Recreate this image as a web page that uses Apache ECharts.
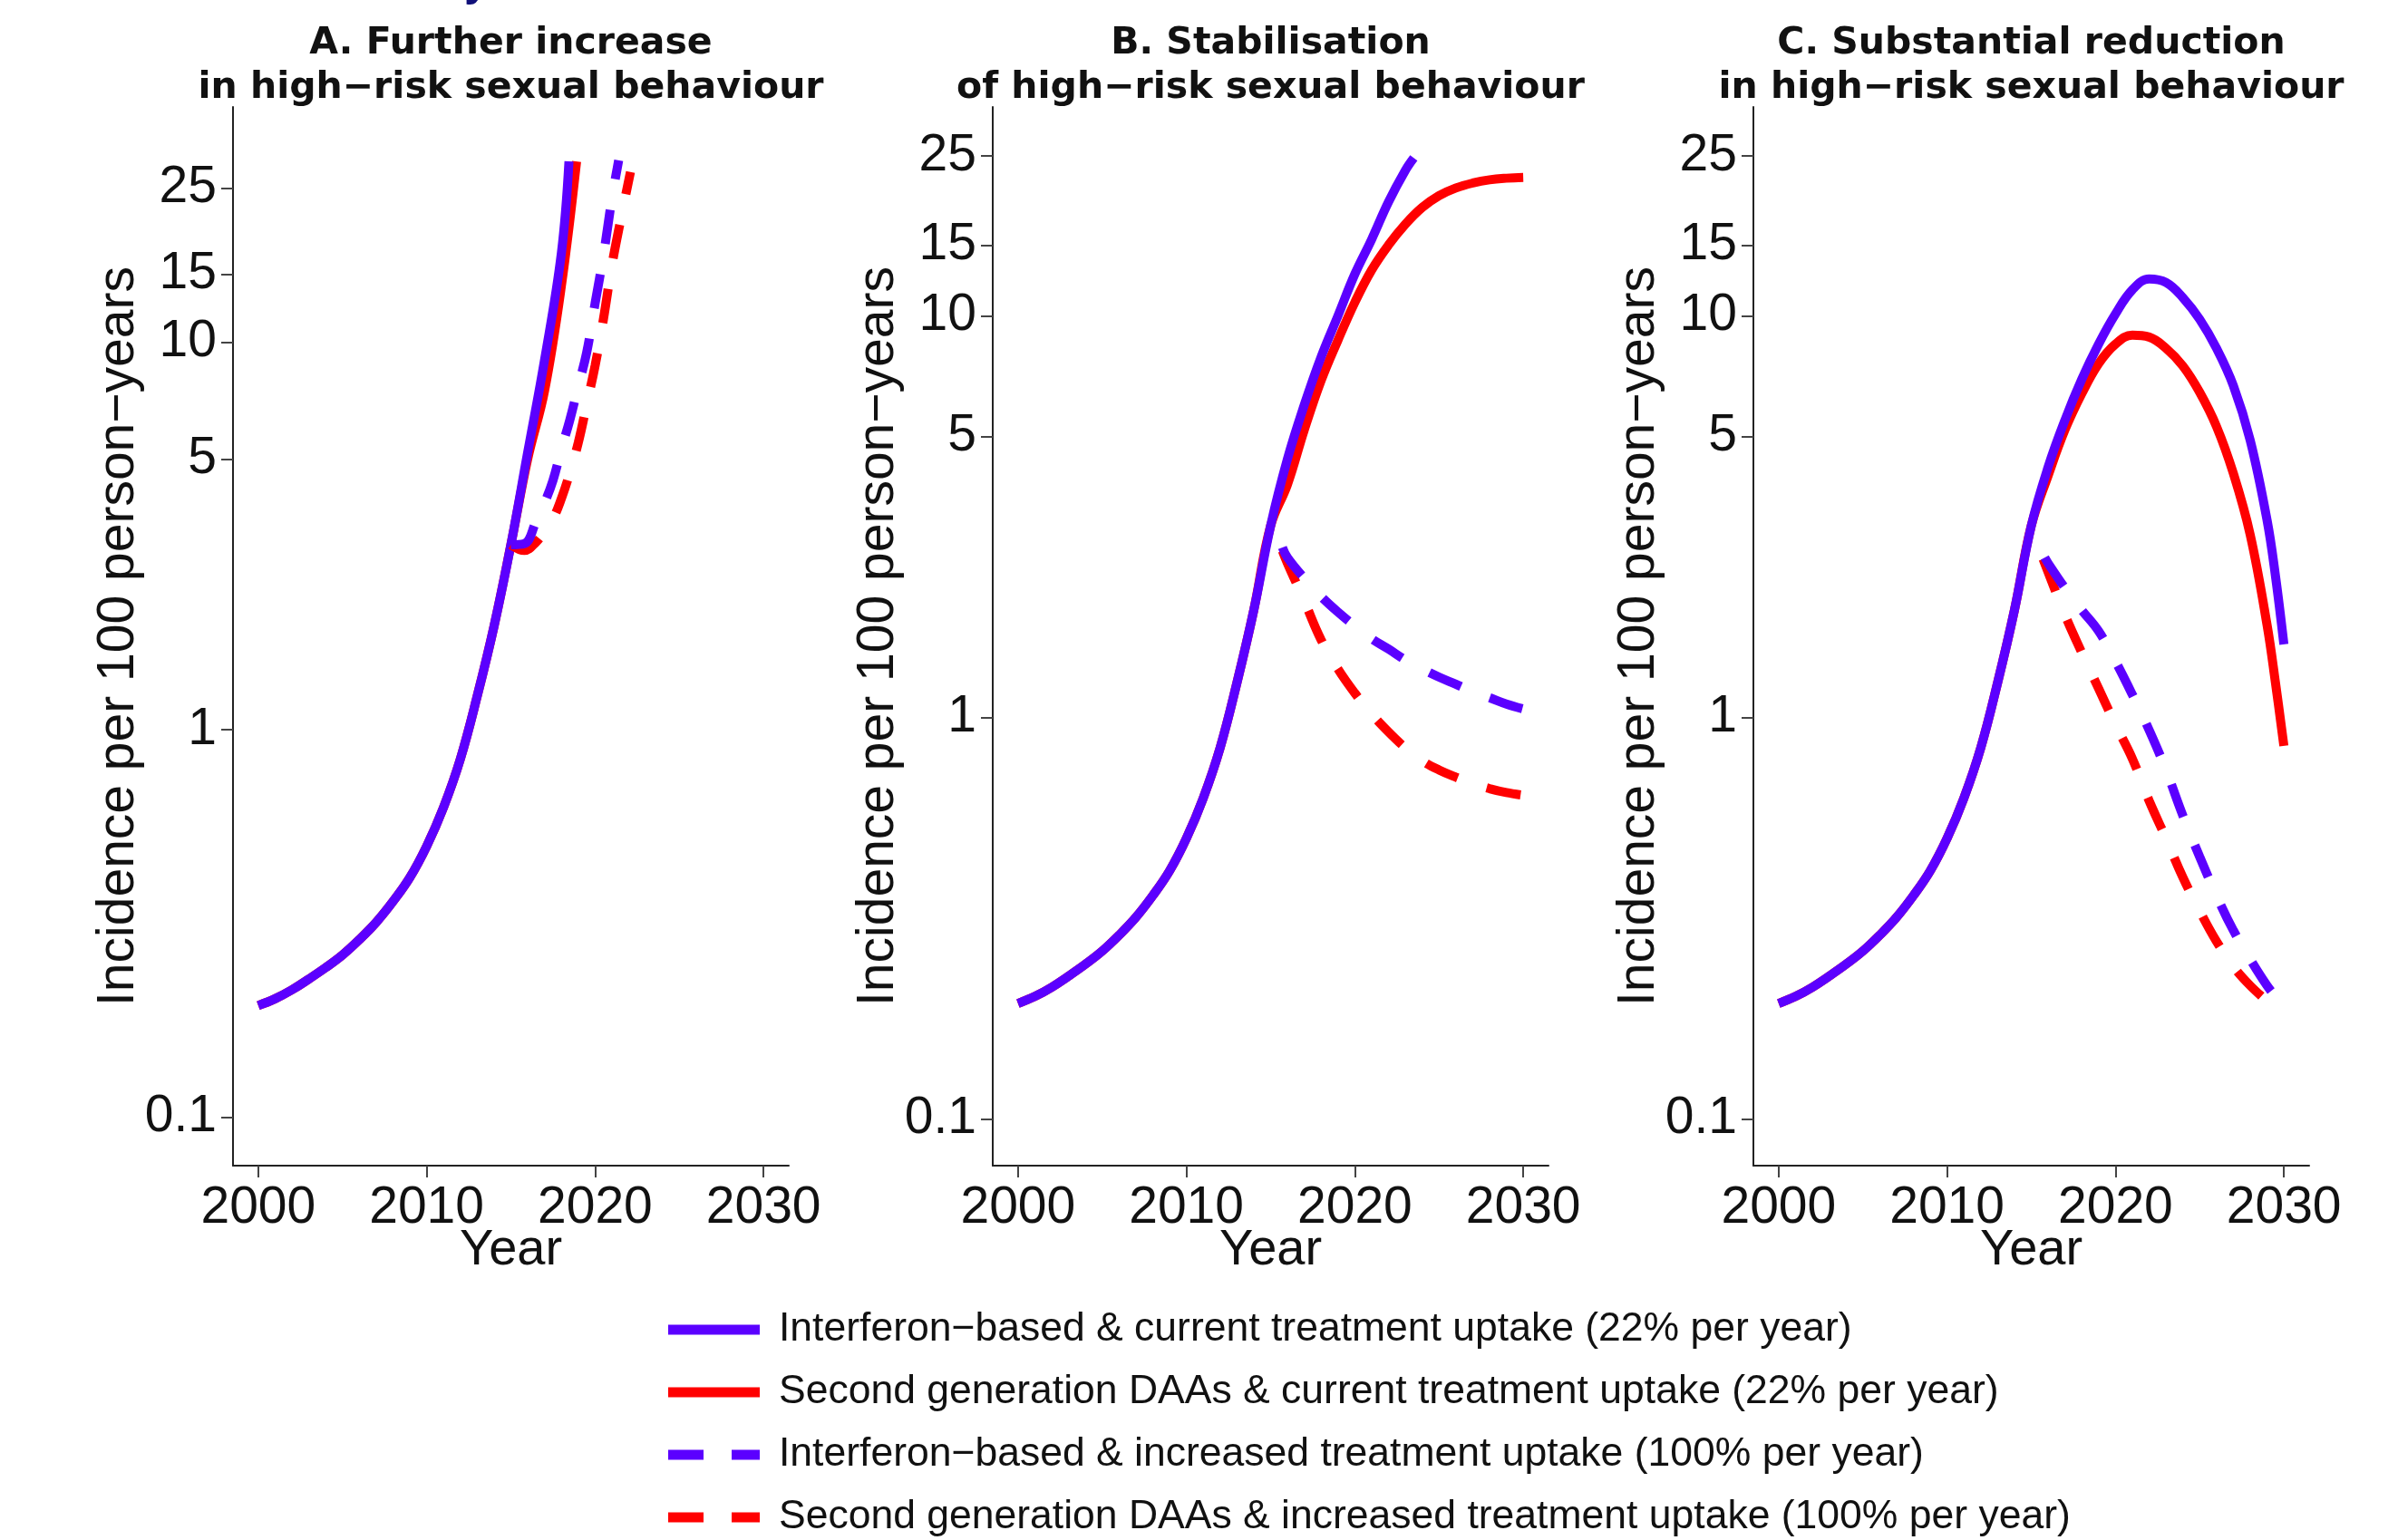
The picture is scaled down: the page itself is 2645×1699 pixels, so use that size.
<!DOCTYPE html>
<html>
<head>
<meta charset="utf-8">
<title>HCV incidence projections</title>
<script src="https://cdn.jsdelivr.net/npm/echarts@6/dist/echarts.min.js"></script>
<style>
  html, body { margin: 0; padding: 0; background: #ffffff; }
  #chart { width: 2645px; height: 1699px; }
</style>
</head>
<body>
<div id="chart"></div>
<script>
// ---------------------------------------------------------------
// Axis ticks
// ---------------------------------------------------------------
const xTickYears = [2000, 2010, 2020, 2030];
const yTickValues = [0.1, 1, 5, 10, 15, 25];

const panelTitles = [
  'A. Further increase\nin high\u2212risk sexual behaviour',
  'B. Stabilisation\nof high\u2212risk sexual behaviour',
  'C. Substantial reduction\nin high\u2212risk sexual behaviour'
];

const scenarioNames = [
  'Interferon\u2212based & current treatment uptake (22% per year)',
  'Second generation DAAs & current treatment uptake (22% per year)',
  'Interferon\u2212based & increased treatment uptake (100% per year)',
  'Second generation DAAs & increased treatment uptake (100% per year)'
];

// ---------------------------------------------------------------
// Incidence per 100 person-years
// ---------------------------------------------------------------
// Common trajectory 2000-2015 (before the scenarios split)
const baselineYears = [2000, 2001, 2002, 2003, 2004, 2005, 2006, 2007,
                       2008, 2009, 2010, 2011, 2012, 2013, 2014, 2015];
const baselineIncidence = [0.194, 0.202, 0.213, 0.227, 0.243, 0.262, 0.287, 0.318,
                           0.36, 0.415, 0.5, 0.63, 0.84, 1.22, 1.85, 3.0];

// A. Further increase in high-risk sexual behaviour
const aIfnCurrent = [[2016, 5.2], [2017, 9.0], [2018, 17], [2018.45, 29.3]];
const aDaaCurrent = [[2016, 5.0], [2017, 7.5], [2018, 14], [2018.9, 29.3]];
const aIfnIncreased = [[2015, 3.0], [2015.8, 3.02], [2016.5, 3.45], [2017, 3.85], [2017.5, 4.4],
                       [2018, 5.3], [2018.5, 6.3], [2019, 7.7], [2019.5, 9.4], [2020, 12.6],
                       [2020.5, 16.8], [2021, 23.5], [2021.4, 29.5]];
const aDaaIncreased = [[2015, 3.0], [2015.8, 2.9], [2016.5, 3.05], [2017, 3.25], [2017.5, 3.5],
                       [2018, 3.95], [2018.5, 4.6], [2019, 5.5], [2019.5, 6.9], [2020, 8.7],
                       [2020.5, 11.5], [2021, 15.8], [2021.5, 20.5], [2022.1, 27.5]];

// B. Stabilisation of high-risk sexual behaviour
const bIfnCurrent = [[2016, 4.4], [2017, 6.0], [2018, 7.9], [2019, 10.0], [2020, 12.7],
                     [2021, 15.5], [2022, 19.2], [2023, 23.0], [2023.5, 24.7]];
const bDaaCurrent = [[2016, 3.8], [2017, 5.2], [2018, 6.9], [2019, 8.7], [2020, 10.8],
                     [2021, 13.0], [2022, 15.0], [2023, 16.9], [2024, 18.6], [2025, 19.9],
                     [2026, 20.8], [2027, 21.4], [2028, 21.8], [2029, 22.0], [2030, 22.1]];
const bIfnIncreased = [[2015.7, 2.65], [2016, 2.5], [2017, 2.22], [2018, 2.0], [2019, 1.83],
                       [2020, 1.69], [2021, 1.57], [2022, 1.48], [2023, 1.39], [2024, 1.32],
                       [2025, 1.26], [2026, 1.21], [2027, 1.16], [2028, 1.12], [2029, 1.08],
                       [2030, 1.05]];
const bDaaIncreased = [[2015.7, 2.6], [2016, 2.42], [2017, 1.95], [2018, 1.56], [2019, 1.32],
                       [2020, 1.15], [2021, 1.02], [2022, 0.92], [2023, 0.84], [2024, 0.78],
                       [2025, 0.74], [2026, 0.71], [2027, 0.685], [2028, 0.665], [2029, 0.65],
                       [2030, 0.64]];

// C. Substantial reduction in high-risk sexual behaviour
const cIfnCurrent = [[2016, 4.2], [2017, 5.5], [2018, 6.95], [2019, 8.5], [2020, 10.1],
                     [2021, 11.6], [2022, 12.35], [2023, 12.1], [2024, 11.1], [2025, 9.8],
                     [2026, 8.3], [2027, 6.7], [2028, 4.9], [2029, 3.1], [2029.5, 2.25],
                     [2030, 1.52]];
const cDaaCurrent = [[2016, 4.0], [2017, 5.2], [2018, 6.4], [2019, 7.6], [2020, 8.5],
                     [2021, 8.95], [2022, 8.85], [2023, 8.3], [2024, 7.5], [2025, 6.45],
                     [2026, 5.3], [2027, 4.05], [2028, 2.85], [2029, 1.7], [2029.5, 1.22],
                     [2030, 0.85]];
const cIfnIncreased = [[2015.8, 2.5], [2016, 2.42], [2017, 2.1], [2018, 1.85], [2019, 1.64],
                       [2020, 1.38], [2021, 1.14], [2022, 0.93], [2023, 0.74], [2024, 0.57],
                       [2025, 0.45], [2026, 0.36], [2027, 0.295], [2028, 0.25], [2029, 0.215],
                       [2029.8, 0.195]];
const cDaaIncreased = [[2015.7, 2.48], [2016, 2.3], [2017, 1.8], [2018, 1.45], [2019, 1.18],
                       [2020, 0.96], [2021, 0.79], [2022, 0.62], [2023, 0.5], [2024, 0.4],
                       [2025, 0.33], [2026, 0.277], [2027, 0.24], [2028, 0.215], [2029.1, 0.195]];

// ---------------------------------------------------------------
// Styling and layout
// ---------------------------------------------------------------
const PURPLE = '#5b00ff';
const RED = '#ff0000';
const DASH = [38, 34];
const FONT = '"Liberation Sans", Arial, Helvetica, sans-serif';
const TITLE_FONT = '"DejaVu Sans", Verdana, sans-serif';

const gridLeft = [257, 1095, 1934];
const gridTop = 118;
const gridWidth = 613;
const gridHeight = 1168;
const yExtent = [[0.0749, 40.5], [0.0766, 33.1], [0.0766, 33.1]];

// legend block under the panels
const legendX = 737;
const legendTop = 1467;
const legendRowGap = 69;
const legendSampleWidth = 101;

function withBaseline(projection) {
  return baselineYears.map((y, i) => [y, baselineIncidence[i]]).concat(projection);
}

const panelData = [
  { ifnCur: aIfnCurrent, daaCur: aDaaCurrent, ifnInc: aIfnIncreased, daaInc: aDaaIncreased },
  { ifnCur: bIfnCurrent, daaCur: bDaaCurrent, ifnInc: bIfnIncreased, daaInc: bDaaIncreased },
  { ifnCur: cIfnCurrent, daaCur: cDaaCurrent, ifnInc: cIfnIncreased, daaInc: cDaaIncreased }
];

function lineSeries(name, data, color, dashed, idx) {
  return {
    name: name,
    type: 'line',
    xAxisIndex: idx,
    yAxisIndex: idx,
    data: data,
    symbol: 'none',
    smooth: 0.4,
    silent: true,
    animation: false,
    itemStyle: { color: color },
    lineStyle: { color: color, width: 10, type: dashed ? DASH : 'solid', cap: 'butt' },
    emphasis: { disabled: true }
  };
}

const grids = [], xAxes = [], yAxes = [], series = [], graphics = [];

panelData.forEach((p, i) => {
  grids.push({ left: gridLeft[i], top: gridTop, width: gridWidth, height: gridHeight, containLabel: false });

  xAxes.push({
    gridIndex: i,
    type: 'value',
    min: 1998.5,
    max: 2031.5,
    name: 'Year',
    nameLocation: 'middle',
    nameGap: 66,
    nameMoveOverlap: false,
    nameTextStyle: { fontFamily: FONT, fontSize: 56, color: '#111' },
    axisLine: { show: true, onZero: false, lineStyle: { color: '#222', width: 2 } },
    axisTick: { show: true, customValues: xTickYears, length: 13, lineStyle: { color: '#444', width: 2 } },
    axisLabel: {
      customValues: xTickYears,
      fontFamily: FONT, fontSize: 57, color: '#111', margin: 19,
      formatter: v => String(Math.round(v))
    },
    splitLine: { show: false }
  });

  yAxes.push({
    gridIndex: i,
    type: 'log',
    logBase: 10,
    min: yExtent[i][0],
    max: yExtent[i][1],
    name: 'Incidence per 100 person\u2212years',
    nameLocation: 'middle',
    nameRotate: 90,
    nameGap: 97,
    nameMoveOverlap: false,
    nameTextStyle: { fontFamily: FONT, fontSize: 57, color: '#111' },
    axisLine: { show: true, onZero: false, lineStyle: { color: '#222', width: 2 } },
    axisTick: { show: true, customValues: yTickValues, length: 13, lineStyle: { color: '#444', width: 2 } },
    axisLabel: {
      customValues: yTickValues,
      fontFamily: FONT, fontSize: 57, color: '#111', margin: 18,
      formatter: v => String(Math.round(v * 10) / 10)
    },
    splitLine: { show: false }
  });

  // red drawn first so the purple curves sit on top where they coincide
  series.push(lineSeries(scenarioNames[1], withBaseline(p.daaCur), RED, false, i));
  series.push(lineSeries(scenarioNames[0], withBaseline(p.ifnCur), PURPLE, false, i));
  series.push(lineSeries(scenarioNames[3], p.daaInc, RED, true, i));
  series.push(lineSeries(scenarioNames[2], p.ifnInc, PURPLE, true, i));

  graphics.push({
    type: 'text',
    x: gridLeft[i] + gridWidth / 2,
    y: 24,
    silent: true,
    style: {
      text: panelTitles[i],
      textAlign: 'center',
      textVerticalAlign: 'top',
      fontFamily: TITLE_FONT,
      fontWeight: 'bold',
      fontSize: 41,
      lineHeight: 49,
      fill: '#111'
    }
  });
});

// legend: line sample + label for each scenario
const legendStyles = [
  { color: PURPLE, dashed: false },
  { color: RED, dashed: false },
  { color: PURPLE, dashed: true },
  { color: RED, dashed: true }
];
scenarioNames.forEach((name, k) => {
  const cy = legendTop + k * legendRowGap;
  graphics.push({
    type: 'line',
    silent: true,
    shape: { x1: legendX, y1: cy, x2: legendX + legendSampleWidth, y2: cy },
    style: {
      stroke: legendStyles[k].color,
      lineWidth: 11,
      lineCap: 'butt',
      lineDash: legendStyles[k].dashed ? [39, 31] : null
    }
  });
  graphics.push({
    type: 'text',
    silent: true,
    x: legendX + legendSampleWidth + 21,
    y: cy,
    style: {
      text: name,
      textAlign: 'left',
      textVerticalAlign: 'middle',
      fontFamily: FONT,
      fontSize: 44.5,
      fill: '#111'
    }
  });
});

// descender of a heading line above the figure, cut by the top edge
graphics.push({
  type: 'text',
  x: 512,
  y: 6,
  silent: true,
  style: { text: 'y', textAlign: 'left', textVerticalAlign: 'bottom',
           fontFamily: FONT, fontWeight: 'bold', fontSize: 50, fill: '#10107a' }
});

const chart = echarts.init(document.getElementById('chart'), null, { renderer: 'canvas' });
chart.setOption({
  backgroundColor: '#ffffff',
  animation: false,
  grid: grids,
  xAxis: xAxes,
  yAxis: yAxes,
  series: series,
  graphic: graphics
});
</script>
</body>
</html>
